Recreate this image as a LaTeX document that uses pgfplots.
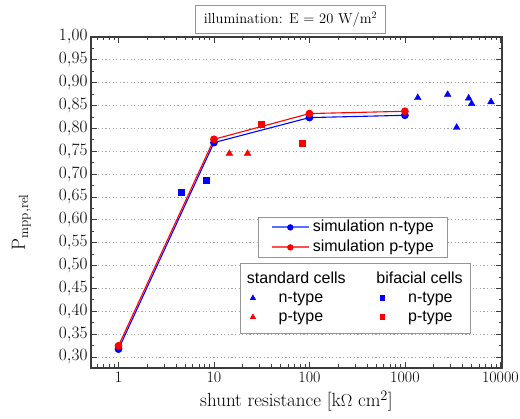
\documentclass[border=0pt]{standalone}
\usepackage{fontspec}
\usepackage{pgfplots}
\pgfplotsset{compat=1.18}
\newfontfamily\legfont{Liberation Sans}
\definecolor{myblue}{RGB}{0,0,255}
\definecolor{myred}{RGB}{255,0,0}
\definecolor{legblue}{RGB}{90,110,255}
\definecolor{legred}{RGB}{255,80,80}
\definecolor{axgray}{RGB}{60,60,60}
\definecolor{gridgray}{RGB}{165,165,165}
\definecolor{boxgray}{RGB}{150,150,150}
\begin{document}
\begin{tikzpicture}
\useasboundingbox (-91pt,-51pt) rectangle (429pt,368pt);
\begin{axis}[
  at={(0pt,0pt)}, anchor=south west,
  scale only axis, width=411pt, height=331pt,
  xmode=log, xmin=0.515, xmax=10400,
  ymin=0.276, ymax=1.0,
  xtick={1,10,100,1000,10000},
  xticklabels={1,10,100,1000,10000},
  minor xtick={0.6,0.7,0.8,0.9,2,3,4,5,6,7,8,9,20,30,40,50,60,70,80,90,200,300,400,500,600,700,800,900,2000,3000,4000,5000,6000,7000,8000,9000},
  ytick={0.30,0.35,0.40,0.45,0.50,0.55,0.60,0.65,0.70,0.75,0.80,0.85,0.90,0.95,1.00},
  minor y tick num=1,
  yticklabel style={/pgf/number format/.cd, use comma, fixed, fixed zerofill, precision=2},
  tick label style={font=\fontsize{16}{19}\selectfont, color=black},
  tick align=inside,
  major tick length=6pt, minor tick length=3.5pt,
  tick style={axgray, line width=0.8pt},
  axis line style={axgray, line width=1.2pt},
  ymajorgrids,
  grid style={gridgray, line width=0.8pt, dash pattern=on 1.2pt off 2.4pt},
  xlabel={shunt resistance [k$\Omega$ cm$^2$]},
  xlabel style={at={(axis description cs:0.5,0)}, anchor=base, yshift=-39pt, font=\fontsize{19}{23}\selectfont},
  ylabel={$\mathrm{P}_{\mathrm{mpp,rel}}$},
  ylabel style={at={(axis description cs:-0.161,0.441)}, anchor=base, font=\fontsize{19}{23}\selectfont},
  title={illumination: E = 20 W/m$^2$},
  title style={at={(axis description cs:0.4854,1)}, anchor=south, yshift=-3pt, draw=boxgray, line width=0.7pt, inner xsep=8pt, inner ysep=6.5pt, font=\fontsize{14.5}{17}\selectfont},
  legend style={at={(axis description cs:0.869,0.456)}, anchor=north east, draw=boxgray, line width=0.7pt, inner xsep=13pt, inner ysep=1pt, font=\legfont\fontsize{16}{19}\selectfont, nodes={inner sep=1pt, text height=12.5pt, text depth=3.5pt}, row sep=2pt},
  legend cell align=left,
]
\addplot[color=myblue, line width=1.1pt, mark=*, mark size=3.3pt, mark options={solid},
  legend image code/.code={\fill[legblue] (0pt,-0.5pt) rectangle (36pt,0.5pt); \fill[myblue] (18pt,0pt) circle[radius=2.6pt]; \path (0pt,-3pt) (39pt,3pt);}]
  coordinates {(1,0.3172)(10,0.7690)(100,0.8237)(1000,0.8287)};
\addlegendentry{simulation n-type}
\addplot[color=myred, line width=1.1pt, mark=*, mark size=3.3pt, mark options={solid},
  legend image code/.code={\fill[legred] (0pt,-0.5pt) rectangle (36pt,0.5pt); \fill[myred] (18pt,0pt) circle[radius=2.6pt]; \path (0pt,-3pt) (39pt,3pt);}]
  coordinates {(1,0.3246)(10,0.7762)(100,0.8325)(1000,0.8375)};
\addlegendentry{simulation p-type}
% standard cells n-type
\addplot[only marks, mark=triangle*, color=myblue, mark size=3.9pt, forget plot] coordinates {(1364,0.867)(2806,0.874)(3485,0.802)(4653,0.866)(5000,0.854)(7980,0.858)};
% standard cells p-type
\addplot[only marks, mark=triangle*, color=myred, mark size=3.9pt, forget plot] coordinates {(14.5,0.745)(22.5,0.745)};
% bifacial n-type
\addplot[only marks, mark=square*, color=myblue, mark size=3pt, forget plot] coordinates {(4.49,0.661)(8.2,0.6866)};
% bifacial p-type
\addplot[only marks, mark=square*, color=myred, mark size=3pt, forget plot] coordinates {(31.5,0.8084)(84.5,0.7668)};
\end{axis}
\begin{axis}[
  at={(0pt,0pt)}, anchor=south west,
  scale only axis, width=411pt, height=331pt,
  xmode=log, xmin=0.515, xmax=10400,
  ymin=0.276, ymax=1.0,
  hide axis,
  legend columns=2,
  legend style={at={(axis description cs:0.9246,0.318)}, anchor=north east, draw=boxgray, line width=0.7pt, inner xsep=7pt, inner ysep=7pt, font=\legfont\fontsize{16}{19}\selectfont, nodes={inner sep=1pt, text height=12.5pt, text depth=3.5pt}, row sep=1pt, /tikz/every even column/.append style={column sep=30pt}},
  legend cell align=left,
  legend image code/.code={\path (0pt,0pt) (29.7pt,0pt); \fill[#1] plot coordinates {(5.3pt,0pt)};},
]
\addlegendimage{empty legend}
\addlegendentry{\hspace*{-31.7pt}standard cells}
\addlegendimage{empty legend}
\addlegendentry{\hspace*{-31.7pt}bifacial cells}
\addlegendimage{only marks, mark=triangle*, color=myblue, mark size=2.9pt}
\addlegendentry{n-type}
\addlegendimage{only marks, mark=square*, color=myblue, mark size=2.4pt}
\addlegendentry{n-type}
\addlegendimage{only marks, mark=triangle*, color=myred, mark size=2.9pt}
\addlegendentry{p-type}
\addlegendimage{only marks, mark=square*, color=myred, mark size=2.4pt}
\addlegendentry{p-type}
\end{axis}
\end{tikzpicture}
\end{document}
